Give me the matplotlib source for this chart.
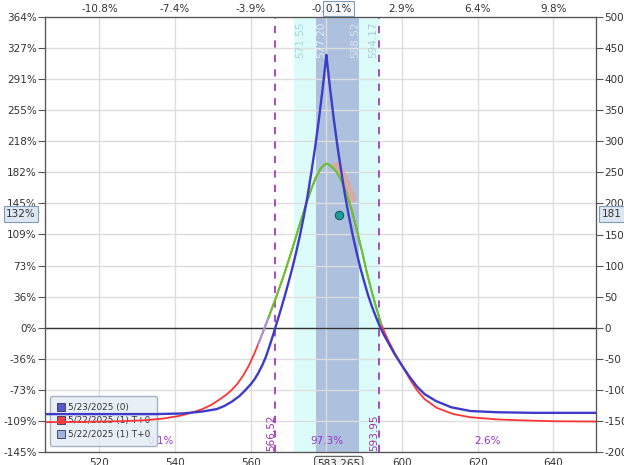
import matplotlib
matplotlib.use('Agg')
import matplotlib.pyplot as plt
from matplotlib.lines import Line2D

# --- data ---
price = 583.265
x_range = (505.6, 651.3)
y_range = (-200, 500)

# 5/23/2025 (0)
blue_x = [505.6, 535, 542, 547, 551, 553, 555, 557, 558.5, 560, 561, 562,
          563, 564, 565, 566, 567, 568, 569, 570, 571, 572, 573, 574,
          575, 576, 577, 578, 579, 579.7, 580, 580.3, 581, 582, 583, 584, 585,
          586, 587, 588, 589, 590, 591, 592, 593, 594, 595, 596, 597, 598,
          600, 602, 604, 606, 609, 613, 618, 625, 635, 651.3]
blue_y = [-139, -139, -138, -135, -131, -126, -119, -110, -101, -91, -83, -73,
          -61, -47, -29, -10, 10, 30, 51, 73, 96, 121, 148, 178,
          211, 249, 289, 334, 384, 422, 439, 422, 384, 334, 289, 249, 211,
          178, 148, 121, 96, 74, 53, 35, 19, 4, -9, -20, -31, -42,
          -61, -79, -95, -107, -118, -128, -134, -136, -137, -137]

# 5/22/2025 (1) T+0
red_x = [505.6, 515, 525, 532, 537, 541, 544, 547, 549.5, 551.5, 553.5, 555,
         556.5, 558, 559.5, 561, 562, 563.5, 565, 567, 569, 571, 573, 574.5,
         576, 577.3, 578.5, 579.4, 580, 580.8, 581.8, 582.8, 584, 585.4,
         586.8, 588.1, 589.5, 590.7, 592, 593.3, 594.5, 595.5, 596.5, 598,
         600.4, 602, 603.9, 606, 609.2, 613.6, 618, 625, 631.3, 640, 651.3]
red_y = [-152, -151.5, -150.5, -149, -146, -142, -137.5, -131.5, -124.5,
         -116.5, -108, -100, -90, -77, -61, -41, -26, -3, 21, 54, 89, 127, 167,
         196, 223, 243, 256, 262, 264, 262, 257, 250, 236, 215,
         187, 156, 121, 89, 58, 30, 6, -9, -22, -40,
         -65, -82, -100, -115, -129, -139, -144, -147.5, -149, -150.5, -151]

green_x = [564.7, 565, 567, 569, 571, 573, 574.5, 576, 577.3, 578.5, 579.4,
           580, 580.8, 581.8, 582.8, 584, 585.4, 586.8, 588.1, 589.5, 590.7,
           592, 593.3, 594.5]
green_y = [16, 21, 54, 89, 127, 167, 196, 223, 243, 256, 262,
           264, 262, 257, 250, 236, 215, 187, 156, 121, 89,
           58, 30, 6]

lav_x = [562.0, 564.8]
lav_y = [-26, 18]

band_x = [582.8, 584.3, 585.6, 586.8]
band_y = [260, 245, 226, 208]

dot_x, dot_y = 583.3, 182

outer_band = (571.55, 594.17)
inner_band = (577.20, 588.52)
breakevens = [566.52, 593.95]
prob_labels = ['0.1%', '97.3%', '2.6%']

x_ticks = [520, 540, 560, 580, 600, 620, 640]
top_labels = ['-10.8%', '-7.4%', '-3.9%', '-0.5%', '2.9%', '6.4%', '9.8%']
y_ticks = list(range(-200, 501, 50))
left_labels = ['-145%', '-109%', '-73%', '-36%', '0%', '36%', '73%', '109%',
               '145%', '182%', '218%', '255%', '291%', '327%', '364%']

legend_labels = ['5/23/2025 (0)', '5/22/2025 (1) T+0', '5/22/2025 (1) T+0']
legend_colors = ['#5858cc', '#f04040', '#9fb3df']

# --- styling ---
fs = 7.5
tc = '#333333'
spine_c = '#555555'

fig = plt.figure(figsize=(6.24, 4.65), dpi=100)
ax = fig.add_axes([45 / 624, 13 / 465, 551 / 624, 435 / 465])
ax.set_xlim(*x_range)
ax.set_ylim(*y_range)

ax.axvspan(*outer_band, color='#dcfcfc', lw=0, zorder=0)
ax.axvspan(*inner_band, color='#adc0de', lw=0, zorder=0.2)

ax.set_xticks(x_ticks)
ax.set_yticks(y_ticks)
ax.set_yticklabels(left_labels, fontsize=fs, color=tc)
ax.set_xticklabels([str(v) for v in x_ticks], fontsize=fs, color=tc)
ax.grid(color='#dddddd', lw=1)
ax.set_axisbelow(True)
ax.tick_params(axis='x', length=0, pad=4)
ax.tick_params(axis='y', length=5, color=spine_c, pad=1)
for s in ax.spines.values():
    s.set_color(spine_c)

ax.axhline(0, color='#333333', lw=1, zorder=1.8)
for b in breakevens:
    ax.axvline(b, color='#a43cb4', ls=(0, (4, 4)), lw=1.3, zorder=1.9)

ax.plot(red_x, red_y, color='#ff3535', lw=1.3, zorder=3)
ax.plot(lav_x, lav_y, color='#a397dc', lw=1.4, zorder=3.1)
ax.plot(band_x, band_y, color='#f0a080', lw=6, alpha=0.6,
        solid_capstyle='round', zorder=3.2)
ax.plot(green_x, green_y, color='#5ccc2c', lw=1.4, zorder=3.3)
ax.plot(blue_x, blue_y, color='#3c3cc8', lw=1.7, zorder=3.5)
ax.plot([dot_x], [dot_y], 'o', ms=6, mfc='#1c9e9e', mec='#0d6060', mew=0.8,
        zorder=4)

# band edge labels at the top
edge_vals = [outer_band[0], inner_band[0], inner_band[1], outer_band[1]]
edge_dx = [4, 4, -2.5, -5]
edge_cols = ['#a9d3dc', '#e6ecf6', '#dde5f2', '#a9cad8']
for v, dx, c in zip(edge_vals, edge_dx, edge_cols):
    ax.annotate('%.2f' % v, xy=(v, 1), xycoords=('data', 'axes fraction'),
                xytext=(dx, -3), textcoords='offset points', rotation=90,
                ha='center', va='top', fontsize=fs, color=c, zorder=2)

# breakeven labels
for b in breakevens:
    ax.annotate('%.2f' % b, xy=(b, 0), xycoords=('data', 'axes fraction'),
                xytext=(-3.3, 1), textcoords='offset points', rotation=90,
                ha='center', va='bottom', fontsize=fs, color='#9b30a8',
                zorder=2)

# probability labels between breakevens
edges = [x_range[0]] + breakevens + [x_range[1]]
for i, lab in enumerate(prob_labels):
    mid = (edges[i] + edges[i + 1]) / 2
    ax.text(mid, 0.025, lab, transform=ax.get_xaxis_transform(),
            ha='center', va='center', fontsize=fs, color='#9932cc', zorder=1)

# right axis
ax2 = ax.twinx()
ax2.set_ylim(*y_range)
ax2.set_yticks(y_ticks)
ax2.set_yticklabels([str(v) for v in y_ticks], fontsize=fs, color=tc)
ax2.tick_params(axis='y', length=5, color=spine_c, pad=1)
for s in ax2.spines.values():
    s.set_color(spine_c)

# top axis
ax3 = ax.twiny()
ax3.set_xlim(*x_range)
ax3.set_xticks(x_ticks)
ax3.set_xticklabels(top_labels, fontsize=fs, color=tc)
ax3.tick_params(axis='x', length=0, pad=2)
for s in ax3.spines.values():
    s.set_color(spine_c)

# value boxes
box = dict(boxstyle='square,pad=0.25', fc='#dde7f3', ec='#7f9db9', lw=0.8)
fig.text(21 / 624, 1 - 214 / 465, '132%', ha='center', va='center',
         fontsize=fs, color=tc, bbox=box)
fig.text(612 / 624, 1 - 214 / 465, '181', ha='center', va='center',
         fontsize=fs, color=tc, bbox=box)
ax3.annotate('0.1%', xy=(price, 1), xycoords=('data', 'axes fraction'),
             xytext=(0, 2.5), textcoords='offset points', ha='center',
             va='bottom', fontsize=fs, color=tc,
             bbox=dict(boxstyle='square,pad=0.2', fc='#f4f7fb', ec='#7f9db9',
                       lw=0.8))
ax.annotate('583.265', xy=(price, 0), xycoords=('data', 'axes fraction'),
            xytext=(0, -5), textcoords='offset points', ha='center',
            va='top', fontsize=fs, color=tc, annotation_clip=False,
            bbox=dict(boxstyle='round,pad=0.25', fc='#f2f2f2', ec='#555555',
                      lw=0.8))

handles = [Line2D([], [], marker='s', ls='none', ms=5.5, mfc=c, mec='#333366',
                  mew=0.6) for c in legend_colors]
leg = ax.legend(handles, legend_labels, loc='lower left',
                bbox_to_anchor=(0.009, 0.014), borderaxespad=0,
                fontsize=6.4, frameon=True,
                fancybox=True, facecolor='#e6edf6', edgecolor='#9aa8bb',
                framealpha=0.85, handlelength=0.8, handletextpad=0.4,
                labelspacing=0.5, borderpad=0.8)
for t in leg.get_texts():
    t.set_color(tc)
leg.set_zorder(1.5)

fig.savefig('out.png', dpi=100)
